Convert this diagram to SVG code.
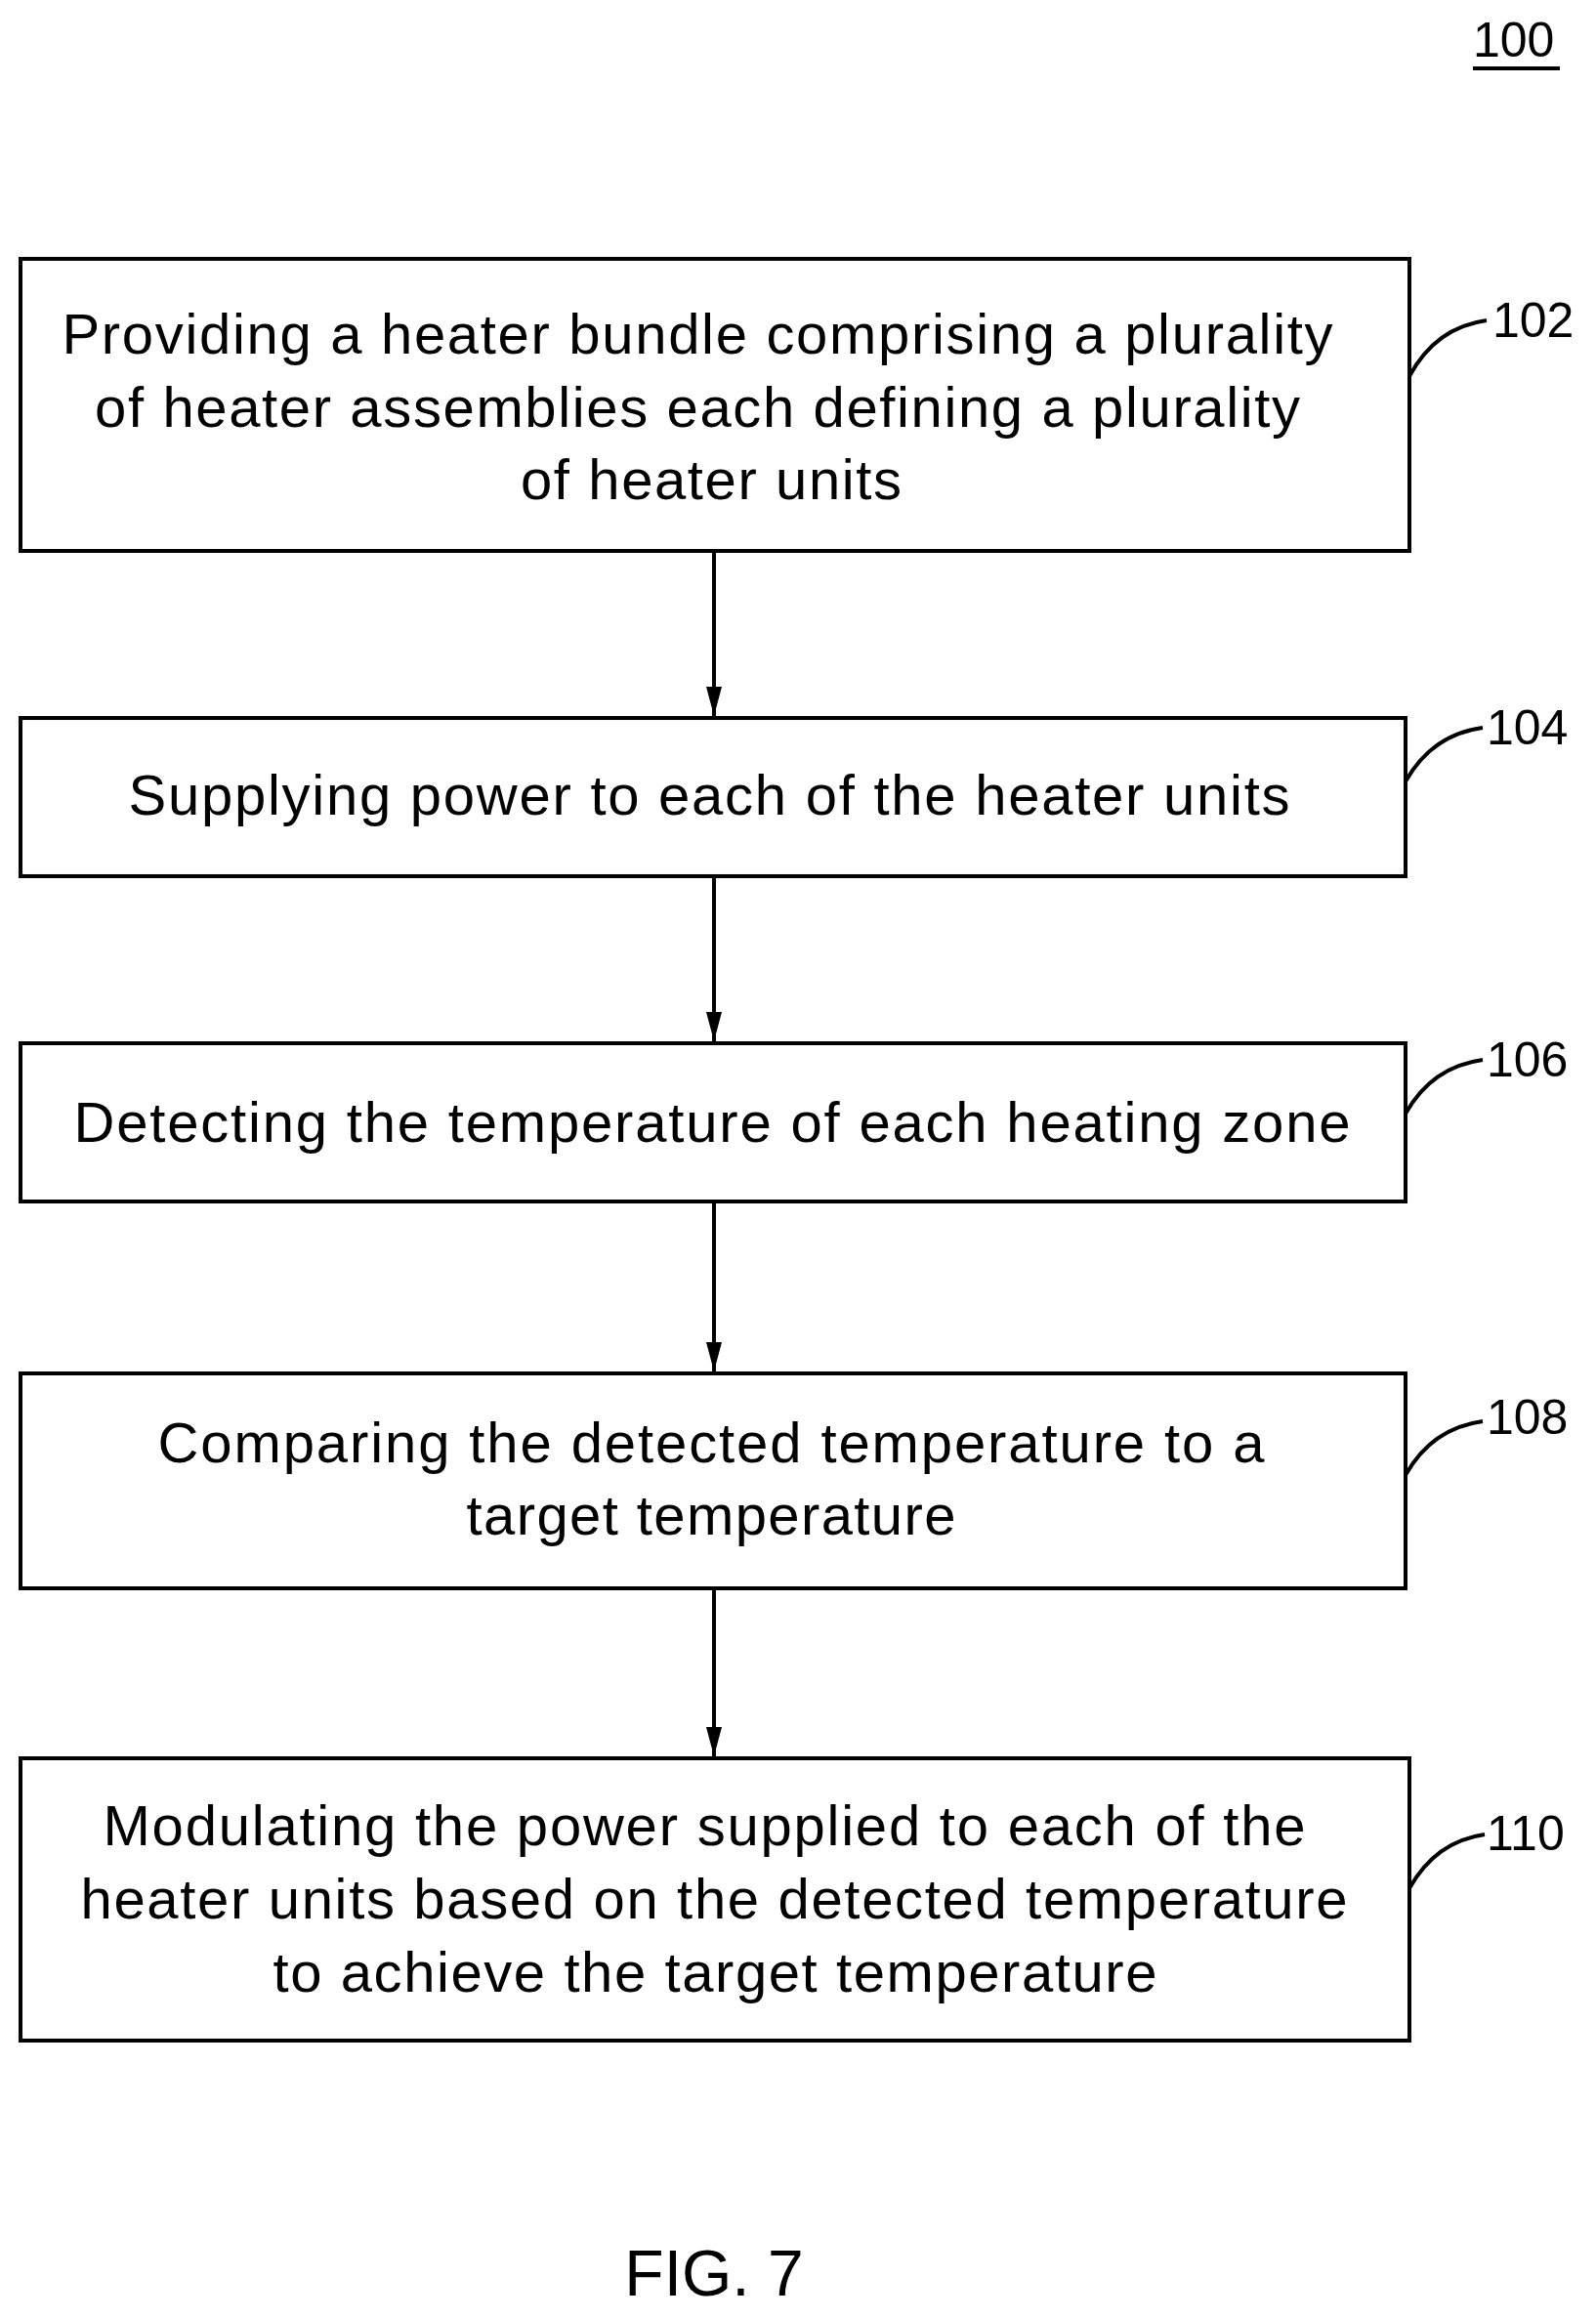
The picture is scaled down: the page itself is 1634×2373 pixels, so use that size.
<svg xmlns="http://www.w3.org/2000/svg" width="1634" height="2373" viewBox="0 0 1634 2373">
<style>
.b{fill:#fff;stroke:#000;stroke-width:4}
.t{font-family:"Liberation Sans",Arial,sans-serif;font-size:58px;text-anchor:middle;fill:#000}
.l{font-family:"Liberation Sans",Arial,sans-serif;font-size:50px;fill:#000}
.c{stroke:#000;stroke-width:4;fill:none}
</style>
<defs><marker id="a" markerWidth="30" markerHeight="16" refX="30" refY="8" orient="auto" markerUnits="userSpaceOnUse" viewBox="0 0 30 16"><path d="M0,0 L30,8 L0,16 Z" fill="#000"/></marker></defs>
<rect width="1634" height="2373" fill="#fff"/>
<text class="l" x="1508" y="58">100</text>
<line x1="1508" y1="70" x2="1597" y2="70" stroke="#000" stroke-width="4"/>
<g id="n102"><rect class="b" x="21" y="265" width="1422" height="299"/>
<text class="t" x="714" y="362" textLength="1301" lengthAdjust="spacing">Providing a heater bundle comprising a plurality</text>
<text class="t" x="714" y="437" textLength="1234" lengthAdjust="spacing">of heater assemblies each defining a plurality</text>
<text class="t" x="728" y="511" textLength="390" lengthAdjust="spacing">of heater units</text>
<text class="l" x="1528" y="345">102</text></g>
<g id="n104"><rect class="b" x="21" y="735" width="1418" height="162"/>
<text class="t" x="726" y="834" textLength="1189" lengthAdjust="spacing">Supplying power to each of the heater units</text>
<text class="l" x="1522" y="762">104</text></g>
<g id="n106"><rect class="b" x="21" y="1068" width="1418" height="162"/>
<text class="t" x="729" y="1169" textLength="1307" lengthAdjust="spacing">Detecting the temperature of each heating zone</text>
<text class="l" x="1522" y="1102">106</text></g>
<g id="n108"><rect class="b" x="21" y="1406" width="1418" height="220"/>
<text class="t" x="728" y="1497" textLength="1133" lengthAdjust="spacing">Comparing the detected temperature to a</text>
<text class="t" x="728" y="1571" textLength="501" lengthAdjust="spacing">target temperature</text>
<text class="l" x="1522" y="1468">108</text></g>
<g id="n110"><rect class="b" x="21" y="1800" width="1422" height="289"/>
<text class="t" x="721" y="1889" textLength="1231" lengthAdjust="spacing">Modulating the power supplied to each of the</text>
<text class="t" x="731" y="1964" textLength="1297" lengthAdjust="spacing">heater units based on the detected temperature</text>
<text class="t" x="732" y="2039" textLength="905" lengthAdjust="spacing">to achieve the target temperature</text>
<text class="l" x="1522" y="1894">110</text></g>
<g id="connectors">
<path class="c" d="M1443,385 Q1470,335 1522,328"/>
<path class="c" d="M1439,800 Q1466,752 1518,745"/>
<path class="c" d="M1439,1140 Q1466,1092 1518,1085"/>
<path class="c" d="M1439,1510 Q1466,1462 1518,1455"/>
<path class="c" d="M1443,1933 Q1470,1885 1520,1878"/>
<line class="c" x1="731" y1="564" x2="731" y2="733" marker-end="url(#a)"/>
<line class="c" x1="731" y1="897" x2="731" y2="1066" marker-end="url(#a)"/>
<line class="c" x1="731" y1="1230" x2="731" y2="1404" marker-end="url(#a)"/>
<line class="c" x1="731" y1="1626" x2="731" y2="1798" marker-end="url(#a)"/>
</g>
<text class="t" x="731" y="2350" style="font-size:66px">FIG. 7</text>
</svg>
